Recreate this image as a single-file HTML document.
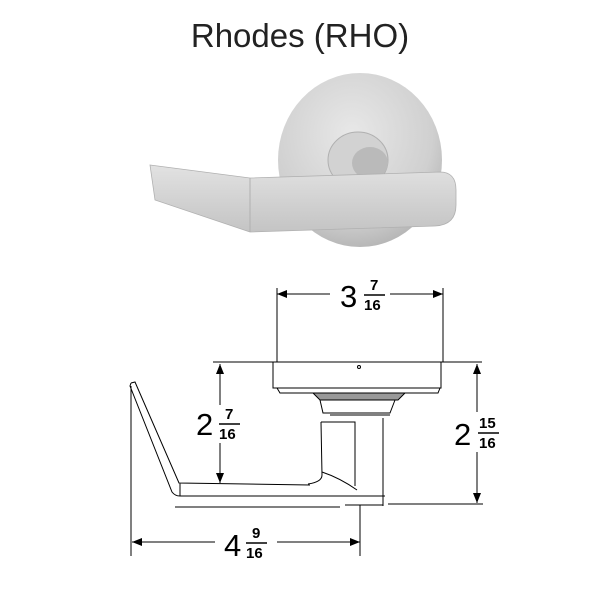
<!DOCTYPE html>
<html><head><style>body{margin:0;background:#fff}svg{display:block}</style></head><body>
<svg width="600" height="600" viewBox="0 0 600 600" font-family="Liberation Sans, sans-serif">
<defs>
<radialGradient id="ros" cx="0.45" cy="0.35" r="0.7"><stop offset="0" stop-color="#e8e8e8"/><stop offset="0.7" stop-color="#d0d0d0"/><stop offset="1" stop-color="#b0b0b0"/></radialGradient>
<linearGradient id="lv" x1="0" y1="0" x2="0" y2="1"><stop offset="0" stop-color="#e2e2e2"/><stop offset="1" stop-color="#c4c4c4"/></linearGradient>
<marker id="a" markerWidth="10" markerHeight="8" refX="10" refY="4" orient="auto-start-reverse" markerUnits="userSpaceOnUse"><path d="M0,0 L10,4 L0,8 z" fill="#000"/></marker>
</defs>
<text x="300" y="47" font-size="33" text-anchor="middle" fill="#222">Rhodes (RHO)</text>
<ellipse cx="360" cy="160" rx="82" ry="87" fill="url(#ros)"/>
<ellipse cx="358" cy="160" rx="30" ry="28" fill="#d2d2d2" stroke="#b0b0b0"/>
<ellipse cx="370" cy="163" rx="18" ry="16" fill="#bababa"/>
<path d="M150,165 L250,178 L440,172 Q456,172 456,190 L456,205 Q456,225 435,226 L250,232 L155,200 Z" fill="url(#lv)" stroke="#b0b0b0" stroke-width="0.8"/>
<path d="M250,178 L250,232" stroke="#b0b0b0" stroke-width="1"/>
<g stroke="#000" stroke-width="1" fill="none">
<line x1="277" y1="288" x2="277" y2="362"/><line x1="443" y1="288" x2="443" y2="362"/>
<line x1="277" y1="294" x2="330" y2="294" marker-start="url(#a)"/><line x1="390" y1="294" x2="443" y2="294" marker-end="url(#a)"/>
<line x1="213" y1="362" x2="482" y2="362"/>
<rect x="273" y="362" width="168" height="26"/>
<path d="M277,388 L440,388 L438,393 L280,393 Z"/>
<path d="M313,393 L405,393 L398,400 L320,400 Z" fill="#999"/>
<path d="M320,400 L323,413 L390,413 L395,400"/>
<line x1="330" y1="415" x2="390" y2="415"/>
<path d="M321,422 L355,422 L355,486 M321,422 L322,475 Q322,482 308,484"/>
<path d="M322,472 Q340,478 357,490" />
<line x1="383" y1="418" x2="383" y2="506"/>
<path d="M131,383 L135,382 L179,483 L310,485 M131,383 L130,386 L172,492 Q175,496 180,496 L385,496 M180,483 L180,496"/>
<line x1="175" y1="507" x2="340" y2="507"/>
<line x1="345" y1="505" x2="383" y2="505"/>
<line x1="388" y1="504" x2="483" y2="504"/>
<line x1="220" y1="364" x2="220" y2="405" marker-start="url(#a)"/><line x1="220" y1="443" x2="220" y2="483" marker-end="url(#a)"/>
<line x1="477" y1="364" x2="477" y2="412" marker-start="url(#a)"/><line x1="477" y1="452" x2="477" y2="503" marker-end="url(#a)"/>
<line x1="131" y1="386" x2="131" y2="556"/><line x1="360" y1="505" x2="360" y2="556"/>
<line x1="132" y1="542" x2="215" y2="542" marker-start="url(#a)"/><line x1="277" y1="542" x2="360" y2="542" marker-end="url(#a)"/>
</g>
<g fill="#000">
<text x="340" y="307" font-size="31">3</text><text x="370" y="290" font-size="15" font-weight="bold">7</text><line x1="364" y1="295" x2="385" y2="295" stroke="#000" stroke-width="1.5"/><text x="364" y="310" font-size="15" font-weight="bold">16</text>
<text x="196" y="435" font-size="31">2</text><text x="225" y="419" font-size="15" font-weight="bold">7</text><line x1="219" y1="424" x2="240" y2="424" stroke="#000" stroke-width="1.5"/><text x="219" y="439" font-size="15" font-weight="bold">16</text>
<text x="454" y="445" font-size="31">2</text><text x="479" y="428" font-size="15" font-weight="bold">15</text><line x1="478" y1="433" x2="499" y2="433" stroke="#000" stroke-width="1.5"/><text x="479" y="448" font-size="15" font-weight="bold">16</text>
<text x="224" y="556" font-size="31">4</text><text x="252" y="538" font-size="15" font-weight="bold">9</text><line x1="246" y1="543" x2="267" y2="543" stroke="#000" stroke-width="1.5"/><text x="246" y="558" font-size="15" font-weight="bold">16</text>
</g>
<circle cx="359" cy="367" r="1.5" fill="none" stroke="#000"/>
</svg>
</body></html>
